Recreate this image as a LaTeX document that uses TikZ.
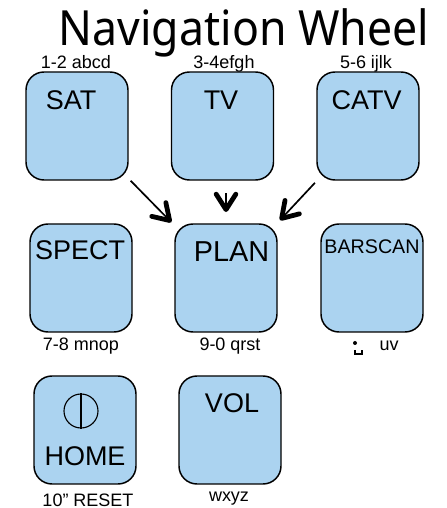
\documentclass[tikz,border=0pt]{standalone}
\usepackage{fontspec}
\setmainfont{Liberation Sans}
\newfontfamily\titlefont[FakeStretch=0.92]{Noto Sans}
\usetikzlibrary{arrows.meta}
\definecolor{keyblue}{HTML}{ABD3F0}
\tikzset{
  keybox/.style={draw, line width=1.05pt, fill=keyblue, rounded corners=0.45cm, minimum width=2.55cm, minimum height=2.7cm},
  keyname/.style={anchor=base, inner sep=0pt, font=\fontsize{19.2}{21}\selectfont},
  keytext/.style={anchor=base, inner sep=0pt, font=\fontsize{12.8}{14}\selectfont},
  navarrow/.style={line width=1.2pt, -{Straight Barb[round, line width=3.4pt, length=11pt, width=14pt]}}
}
\begin{document}
\begin{tikzpicture}
\useasboundingbox (0,0) rectangle (11.175,12.7);
\node[anchor=base, inner sep=0pt, font=\titlefont\fontsize{34.5}{36}\selectfont] (title) at (6.1,11.55) {Navigation Wheel};
% letters above the top row
\node[keytext] (t1) at (1.9,10.975) {1-2 abcd};
\node[keytext] (t2) at (5.6,10.975) {3-4efgh};
\node[keytext] (t3) at (9.15,10.975) {5-6 ijlk};
\node[keybox] (sat) at (1.925,9.55) {};
\node[keybox] (tv) at (5.5625,9.55) {};
\node[keybox] (catv) at (9.2,9.55) {};
\node[keybox] (spect) at (2.025,5.75) {};
\node[keybox] (plan) at (5.65,5.75) {};
\node[keybox] (barscan) at (9.3,5.75) {};
\node[keybox] (home) at (2.125,1.95) {};
\node[keybox] (vol) at (5.75,1.95) {};
\node[keyname] (l1) at (1.78,9.95) {SAT};
\node[keyname] (l2) at (5.525,9.95) {TV};
\node[keyname] (l3) at (9.165,9.95) {CATV};
\node[keyname] (l4) at (2.0,6.2) {SPECT};
\node[anchor=base, inner sep=0pt, font=\fontsize{20.5}{22}\selectfont] (l5) at (5.79,6.15) {PLAN};
\node[anchor=base, inner sep=0pt, font=\fontsize{14}{16}\selectfont] (l6) at (9.3,6.35) {BARSCAN};
\node[keyname] (l7) at (2.125,1.05) {HOME};
\node[keyname] (l8) at (5.8,2.375) {VOL};
\node[keytext] (t4) at (2.025,3.925) {7-8 mnop};
\node[keytext] (t5) at (5.75,3.925) {9-0 qrst};
\node[keytext] (t6) at (9.725,3.925) {uv};
\node[keytext] (t7) at (2.2,0.05) {10” RESET};
\node[keytext] (t8) at (5.725,0.15) {wxyz};
% power symbol
\node[draw, line width=0.8pt, circle, minimum size=0.85cm, inner sep=0pt] (power) at (2.025,2.425) {};
\draw[line width=0.8pt] (power.north) -- (power.south);
% mark next to uv
\fill (8.875,4.125) circle (0.05);
\draw[line width=0.9pt] (8.875,3.95) -- (8.875,3.85) -- (9.05,3.85) -- (9.05,3.95);
\draw[navarrow, shorten <=2pt, shorten >=3pt] (sat) -- (plan);
\draw[navarrow, shorten <=9pt, shorten >=8pt] (plan.north |- tv.south) -- (plan.north);
\draw[navarrow, shorten <=2pt, shorten >=3pt] (catv) -- (plan);
\end{tikzpicture}
\end{document}
